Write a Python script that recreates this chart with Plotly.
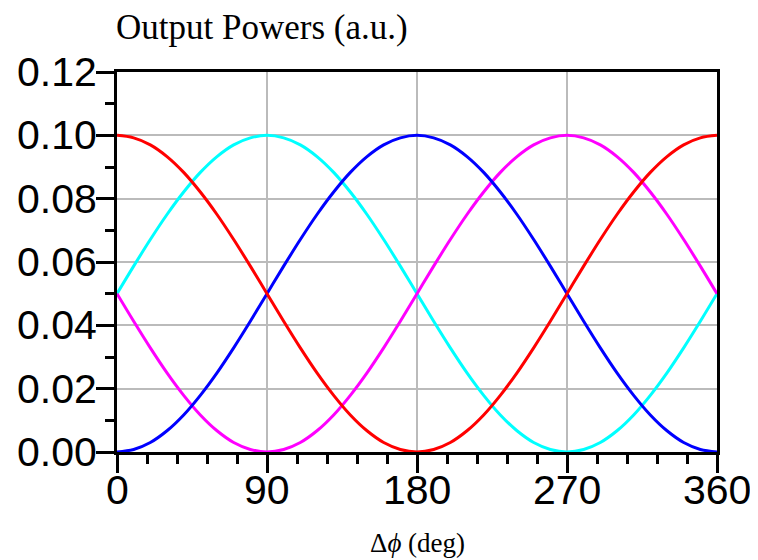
import plotly.graph_objects as go

phase_deg = [0, 10, 20, 30, 40, 50, 60, 70, 80, 90, 100, 110, 120, 130, 140, 150, 160, 170, 180,
             190, 200, 210, 220, 230, 240, 250, 260, 270, 280, 290, 300, 310, 320, 330, 340, 350, 360]

red_power = [0.1000, 0.0992, 0.0970, 0.0933, 0.0883, 0.0821, 0.0750, 0.0671, 0.0587, 0.0500,
             0.0413, 0.0329, 0.0250, 0.0179, 0.0117, 0.0067, 0.0030, 0.0008, 0.0000,
             0.0008, 0.0030, 0.0067, 0.0117, 0.0179, 0.0250, 0.0329, 0.0413, 0.0500,
             0.0587, 0.0671, 0.0750, 0.0821, 0.0883, 0.0933, 0.0970, 0.0992, 0.1000]

blue_power = [0.0000, 0.0008, 0.0030, 0.0067, 0.0117, 0.0179, 0.0250, 0.0329, 0.0413, 0.0500,
              0.0587, 0.0671, 0.0750, 0.0821, 0.0883, 0.0933, 0.0970, 0.0992, 0.1000,
              0.0992, 0.0970, 0.0933, 0.0883, 0.0821, 0.0750, 0.0671, 0.0587, 0.0500,
              0.0413, 0.0329, 0.0250, 0.0179, 0.0117, 0.0067, 0.0030, 0.0008, 0.0000]

cyan_power = [0.0500, 0.0587, 0.0671, 0.0750, 0.0821, 0.0883, 0.0933, 0.0970, 0.0992, 0.1000,
              0.0992, 0.0970, 0.0933, 0.0883, 0.0821, 0.0750, 0.0671, 0.0587, 0.0500,
              0.0413, 0.0329, 0.0250, 0.0179, 0.0117, 0.0067, 0.0030, 0.0008, 0.0000,
              0.0008, 0.0030, 0.0067, 0.0117, 0.0179, 0.0250, 0.0329, 0.0413, 0.0500]

magenta_power = [0.0500, 0.0413, 0.0329, 0.0250, 0.0179, 0.0117, 0.0067, 0.0030, 0.0008, 0.0000,
                 0.0008, 0.0030, 0.0067, 0.0117, 0.0179, 0.0250, 0.0329, 0.0413, 0.0500,
                 0.0587, 0.0671, 0.0750, 0.0821, 0.0883, 0.0933, 0.0970, 0.0992, 0.1000,
                 0.0992, 0.0970, 0.0933, 0.0883, 0.0821, 0.0750, 0.0671, 0.0587, 0.0500]

x_ticks = [0, 90, 180, 270, 360]
x_tick_labels = ["0", "90", "180", "270", "360"]
y_ticks = [0.00, 0.02, 0.04, 0.06, 0.08, 0.10, 0.12]
y_tick_labels = ["0.00", "0.02", "0.04", "0.06", "0.08", "0.10", "0.12"]

series = [
    ("cyan", cyan_power, "#00FFFF"),
    ("magenta", magenta_power, "#FF00FF"),
    ("blue", blue_power, "#0000FF"),
    ("red", red_power, "#FF0000"),
]

fig = go.Figure()
for name, vals, col in series:
    fig.add_trace(go.Scatter(x=phase_deg, y=vals, mode="lines", name=name,
                             line=dict(color=col, width=3, shape="spline"),
                             cliponaxis=False, showlegend=False))

tick_font = dict(family="Liberation Sans, Arial, sans-serif", size=41, color="black")
serif = "Liberation Serif, Times New Roman, serif"

fig.update_xaxes(range=[0, 360], tickvals=x_ticks, showticklabels=False, automargin=False,
                 showline=True, linewidth=3, linecolor="black", mirror=True,
                 ticks="outside", ticklen=18, tickwidth=3, tickcolor="black",
                 showgrid=True, gridcolor="#BBBBBB", gridwidth=2, zeroline=False,
                 minor=dict(dtick=18, tick0=0, ticks="outside", ticklen=9, tickwidth=3,
                            tickcolor="black", showgrid=False))
fig.update_yaxes(range=[0, 0.12], tickvals=y_ticks, showticklabels=False, automargin=False,
                 showline=True, linewidth=3, linecolor="black", mirror=True,
                 ticks="outside", ticklen=18, tickwidth=3, tickcolor="black",
                 showgrid=True, gridcolor="#BBBBBB", gridwidth=2, zeroline=False,
                 minor=dict(dtick=0.01, tick0=0, ticks="outside", ticklen=9, tickwidth=3,
                            tickcolor="black", showgrid=False))

for v, lab in zip(x_ticks, x_tick_labels):
    fig.add_annotation(text=lab, x=v, xref="x", y=0, yref="paper", xanchor="center",
                       yanchor="middle", yshift=-38, showarrow=False, font=tick_font)
for v, lab in zip(y_ticks, y_tick_labels):
    fig.add_annotation(text=lab, x=0, xref="paper", y=v, yref="y", xanchor="right",
                       yanchor="middle", xshift=-18, yshift=0, showarrow=False, font=tick_font)

fig.add_annotation(text="Output Powers (a.u.)", xref="paper", yref="paper",
                   x=0, y=1, xanchor="left", yanchor="middle", xshift=-3, yshift=45, showarrow=False,
                   font=dict(family=serif, size=35, color="black"))
fig.add_annotation(text="Δ<i>ϕ</i> (deg)", xref="paper", yref="paper",
                   x=0.5, y=0, xanchor="center", yanchor="middle", yshift=-91, showarrow=False,
                   font=dict(family=serif, size=27, color="black"))

# page body has an ~8px offset, so the figure is sized to fit the visible window
fig.update_layout(width=750, height=552, margin=dict(l=109, r=41, t=64, b=108),
                  plot_bgcolor="white", paper_bgcolor="white")

fig.write_html("out.html")
